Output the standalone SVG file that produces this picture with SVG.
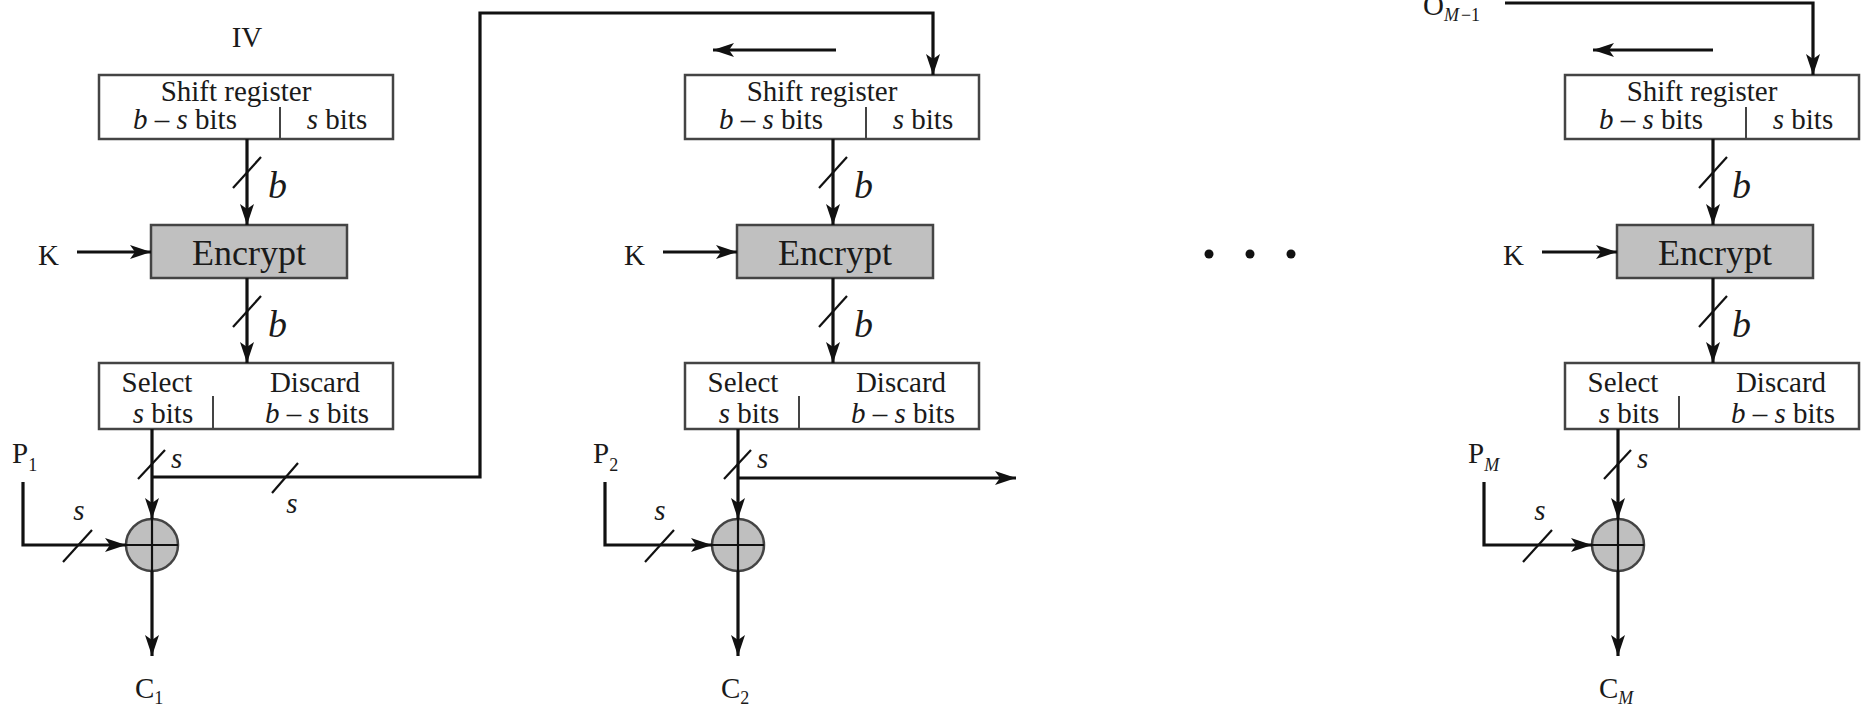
<svg xmlns="http://www.w3.org/2000/svg" width="1864" height="705" viewBox="0 0 1864 705">
<style>
.t{font-family:"Liberation Serif","Times New Roman",serif;font-size:29px;fill:#1a1a1a}
.m{text-anchor:middle}
.i{font-style:italic}
.big{font-size:36px}
.lb{font-size:38px;font-style:italic}
.sub{font-size:18px}
.box{fill:#fff;stroke:#444;stroke-width:2.5}
.enc{fill:#c0c0c0;stroke:#444;stroke-width:2.5}
.div{stroke:#444;stroke-width:2}
.ln{fill:none;stroke:#111;stroke-width:3.2}
.sl{stroke:#111;stroke-width:2.2}
.arr{fill:none;stroke:#111;stroke-width:3.2;marker-end:url(#ah)}
.xor{fill:#bfbfbf;stroke:#444;stroke-width:2.5}
.xl{stroke:#111;stroke-width:2.2}
</style>
<defs>
<marker id="ah" markerUnits="userSpaceOnUse" markerWidth="22" markerHeight="14" refX="21" refY="7" orient="auto">
<path d="M0,0 L21,7 L0,14 L5,7 Z" fill="#111"/>
</marker>
</defs>
<rect width="1864" height="705" fill="#fff"/>

<!-- column 1 nodes -->
<g id="iv"><text class="t m" x="247" y="47">IV</text></g>
<g id="shift1">
<rect class="box" x="99" y="75" width="294" height="64"/>
<line class="div" x1="280" y1="107" x2="280" y2="139"/>
<text class="t m" x="236" y="101">Shift register</text>
<text class="t m" x="185" y="129"><tspan class="i">b</tspan> – <tspan class="i">s</tspan> bits</text>
<text class="t m" x="337" y="129"><tspan class="i">s</tspan> bits</text>
</g>
<g id="k1"><text class="t" x="38" y="265">K</text></g>
<g id="enc1">
<rect class="enc" x="151" y="225" width="196" height="53"/>
<text class="t m big" x="249" y="265">Encrypt</text>
</g>
<g id="sel1">
<rect class="box" x="99" y="363" width="294" height="66"/>
<line class="div" x1="213" y1="396" x2="213" y2="429"/>
<text class="t m" x="157" y="392">Select</text>
<text class="t m" x="315" y="392">Discard</text>
<text class="t m" x="163" y="423"><tspan class="i">s</tspan> bits</text>
<text class="t m" x="317" y="423"><tspan class="i">b</tspan> – <tspan class="i">s</tspan> bits</text>
</g>
<g id="xor1">
<circle class="xor" cx="152" cy="545" r="26"/>
<line class="xl" x1="126" y1="545" x2="178" y2="545"/>
<line class="xl" x1="152" y1="519" x2="152" y2="571"/>
</g>
<g id="p1"><text class="t" x="12" y="463">P<tspan class="sub" dy="8">1</tspan></text></g>
<g id="c1"><text class="t" x="135" y="698">C<tspan class="sub" dy="6">1</tspan></text></g>

<!-- column 2 nodes -->
<g id="shift2">
<rect class="box" x="685" y="75" width="294" height="64"/>
<line class="div" x1="866" y1="107" x2="866" y2="139"/>
<text class="t m" x="822" y="101">Shift register</text>
<text class="t m" x="771" y="129"><tspan class="i">b</tspan> – <tspan class="i">s</tspan> bits</text>
<text class="t m" x="923" y="129"><tspan class="i">s</tspan> bits</text>
</g>
<g id="k2"><text class="t" x="624" y="265">K</text></g>
<g id="enc2">
<rect class="enc" x="737" y="225" width="196" height="53"/>
<text class="t m big" x="835" y="265">Encrypt</text>
</g>
<g id="sel2">
<rect class="box" x="685" y="363" width="294" height="66"/>
<line class="div" x1="799" y1="396" x2="799" y2="429"/>
<text class="t m" x="743" y="392">Select</text>
<text class="t m" x="901" y="392">Discard</text>
<text class="t m" x="749" y="423"><tspan class="i">s</tspan> bits</text>
<text class="t m" x="903" y="423"><tspan class="i">b</tspan> – <tspan class="i">s</tspan> bits</text>
</g>
<g id="xor2">
<circle class="xor" cx="738" cy="545" r="26"/>
<line class="xl" x1="712" y1="545" x2="764" y2="545"/>
<line class="xl" x1="738" y1="519" x2="738" y2="571"/>
</g>
<g id="p2"><text class="t" x="593" y="463">P<tspan class="sub" dy="8">2</tspan></text></g>
<g id="c2"><text class="t" x="721" y="698">C<tspan class="sub" dy="6">2</tspan></text></g>

<!-- ellipsis -->
<g id="dots" fill="#111">
<circle cx="1209" cy="254" r="4.5"/>
<circle cx="1250" cy="254" r="4.5"/>
<circle cx="1291" cy="254" r="4.5"/>
</g>

<!-- column 3 nodes -->
<g id="om1"><text class="t" x="1423" y="15">O<tspan class="sub i" dy="6">M</tspan><tspan class="sub" dx="2">−1</tspan></text></g>
<g id="shift3">
<rect class="box" x="1565" y="75" width="294" height="64"/>
<line class="div" x1="1746" y1="107" x2="1746" y2="139"/>
<text class="t m" x="1702" y="101">Shift register</text>
<text class="t m" x="1651" y="129"><tspan class="i">b</tspan> – <tspan class="i">s</tspan> bits</text>
<text class="t m" x="1803" y="129"><tspan class="i">s</tspan> bits</text>
</g>
<g id="k3"><text class="t" x="1503" y="265">K</text></g>
<g id="enc3">
<rect class="enc" x="1617" y="225" width="196" height="53"/>
<text class="t m big" x="1715" y="265">Encrypt</text>
</g>
<g id="sel3">
<rect class="box" x="1565" y="363" width="294" height="66"/>
<line class="div" x1="1679" y1="396" x2="1679" y2="429"/>
<text class="t m" x="1623" y="392">Select</text>
<text class="t m" x="1781" y="392">Discard</text>
<text class="t m" x="1629" y="423"><tspan class="i">s</tspan> bits</text>
<text class="t m" x="1783" y="423"><tspan class="i">b</tspan> – <tspan class="i">s</tspan> bits</text>
</g>
<g id="xor3">
<circle class="xor" cx="1618" cy="545" r="26"/>
<line class="xl" x1="1592" y1="545" x2="1644" y2="545"/>
<line class="xl" x1="1618" y1="519" x2="1618" y2="571"/>
</g>
<g id="pm"><text class="t" x="1468" y="463">P<tspan class="sub i" dy="8">M</tspan></text></g>
<g id="cm"><text class="t" x="1599" y="698">C<tspan class="sub i" dy="6">M</tspan></text></g>

<!-- connectors -->
<g id="connectors">
<!-- column 1 -->
<line class="arr" x1="247" y1="139" x2="247" y2="225"/>
<line class="sl" x1="233" y1="188" x2="261" y2="157"/>
<text class="t lb" x="268" y="198">b</text>
<line class="arr" x1="77" y1="252" x2="151" y2="252"/>
<line class="arr" x1="247" y1="278" x2="247" y2="363"/>
<line class="sl" x1="233" y1="327" x2="261" y2="296"/>
<text class="t lb" x="268" y="337">b</text>
<line class="arr" x1="152" y1="429" x2="152" y2="519"/>
<line class="sl" x1="138" y1="479" x2="165" y2="450"/>
<text class="t i" x="171" y="468">s</text>
<path class="arr" d="M152,477 H480 V13 H933 V75"/>
<line class="sl" x1="272" y1="493" x2="298" y2="463"/>
<text class="t i m" x="292" y="513">s</text>
<path class="arr" d="M23,482 V545 H126"/>
<line class="sl" x1="63" y1="562" x2="92" y2="530"/>
<text class="t i m" x="79" y="520">s</text>
<line class="arr" x1="152" y1="571" x2="152" y2="656"/>

<!-- column 2 -->
<line class="arr" x1="836" y1="50" x2="713" y2="50"/>
<line class="arr" x1="833" y1="139" x2="833" y2="225"/>
<line class="sl" x1="819" y1="188" x2="847" y2="157"/>
<text class="t lb" x="854" y="198">b</text>
<line class="arr" x1="663" y1="252" x2="737" y2="252"/>
<line class="arr" x1="833" y1="278" x2="833" y2="363"/>
<line class="sl" x1="819" y1="327" x2="847" y2="296"/>
<text class="t lb" x="854" y="337">b</text>
<line class="arr" x1="738" y1="429" x2="738" y2="519"/>
<line class="sl" x1="724" y1="479" x2="751" y2="450"/>
<text class="t i" x="757" y="468">s</text>
<path class="arr" d="M738,478 H1016"/>
<path class="arr" d="M605,482 V545 H712"/>
<line class="sl" x1="645" y1="562" x2="674" y2="530"/>
<text class="t i m" x="660" y="520">s</text>
<line class="arr" x1="738" y1="571" x2="738" y2="656"/>

<!-- column 3 -->
<path class="arr" d="M1505,3 H1813 V75"/>
<line class="arr" x1="1713" y1="50" x2="1593" y2="50"/>
<line class="arr" x1="1713" y1="139" x2="1713" y2="225"/>
<line class="sl" x1="1699" y1="188" x2="1727" y2="157"/>
<text class="t lb" x="1732" y="198">b</text>
<line class="arr" x1="1542" y1="252" x2="1617" y2="252"/>
<line class="arr" x1="1713" y1="278" x2="1713" y2="363"/>
<line class="sl" x1="1699" y1="327" x2="1727" y2="296"/>
<text class="t lb" x="1732" y="337">b</text>
<line class="arr" x1="1618" y1="429" x2="1618" y2="519"/>
<line class="sl" x1="1604" y1="479" x2="1631" y2="450"/>
<text class="t i" x="1637" y="468">s</text>
<path class="arr" d="M1484,482 V545 H1592"/>
<line class="sl" x1="1523" y1="562" x2="1552" y2="530"/>
<text class="t i m" x="1540" y="520">s</text>
<line class="arr" x1="1618" y1="571" x2="1618" y2="656"/>
</g>
</svg>
